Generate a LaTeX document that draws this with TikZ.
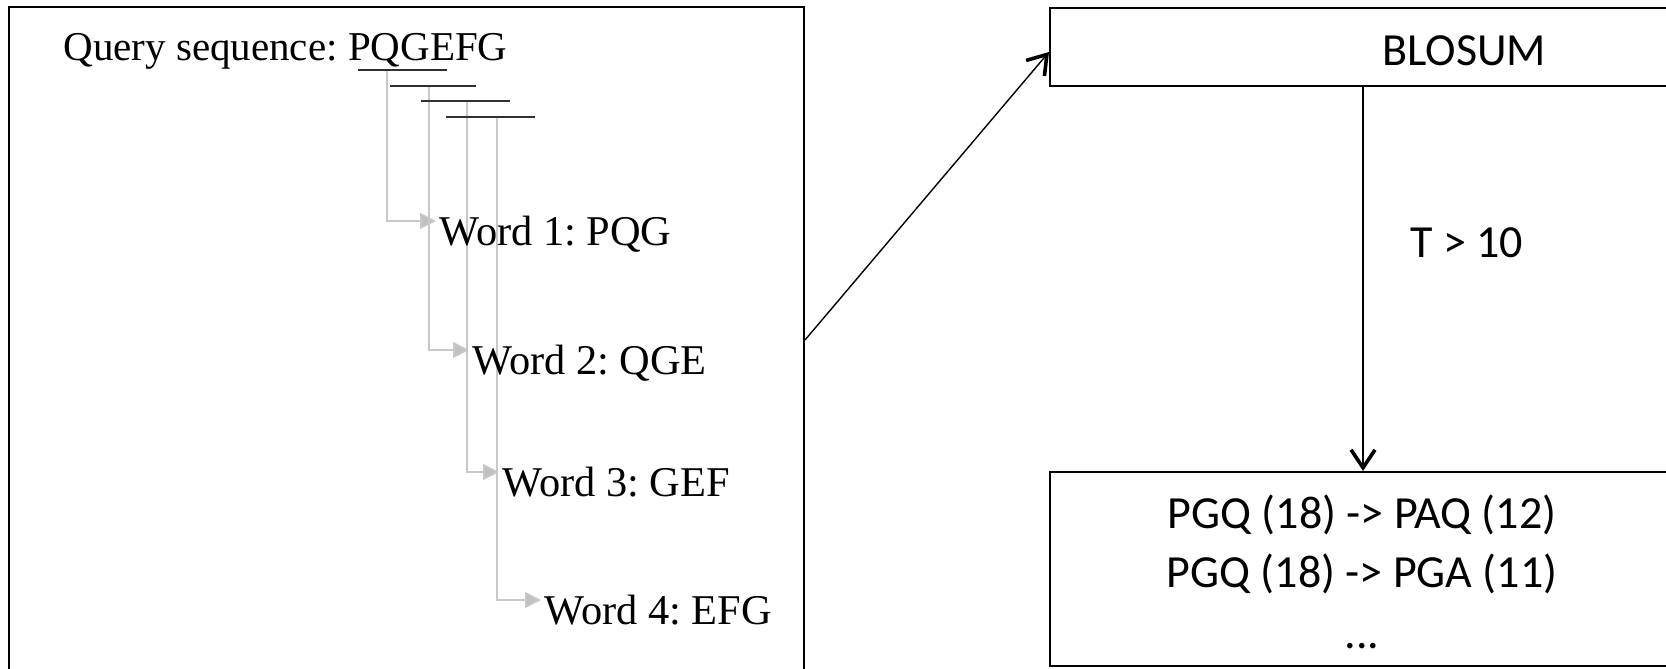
\documentclass[tikz,border=0pt]{standalone}
\usepackage{fontspec}
\setmainfont{Liberation Serif}
\newfontfamily\calib{Carlito}
\usetikzlibrary{arrows.meta,backgrounds}
\definecolor{wordgray}{HTML}{C8C8C8}
\definecolor{tipgray}{HTML}{C0C0C0}
\definecolor{ulgray}{HTML}{303030}
\frenchspacing

\begin{document}
\begin{tikzpicture}[x=0.5pt,y=-0.5pt,
  frame/.style={draw=black, line width=1pt, inner sep=0pt, anchor=north west},
  serif/.style={font=\fontsize{20.5}{24}\selectfont, inner sep=1.5pt, anchor=base west},
  wordtxt/.style={serif, font=\fontsize{21.2}{25}\selectfont},
  calibri/.style={font=\calib\fontsize{23}{28}\selectfont, inner sep=0pt},
  underl/.style={draw=ulgray, line width=1.1pt},
  feed/.style={draw=wordgray, line width=0.9pt, -{Triangle[length=8pt,width=8pt,fill=tipgray]}},
  flow/.style={draw=black, line width=0.7pt, -{Straight Barb[length=9pt,width=12pt,line width=1.8pt]}}
]
\clip (0,0) rectangle (1666,669);

% boxes
\node[frame, minimum width=397.5pt, minimum height=333pt] (qbox) at (8,6) {};
\node[frame, minimum width=313pt, minimum height=39pt] (blosum) at (1049,7) {};
\node[frame, minimum width=313pt, minimum height=97pt] (res) at (1049,471) {};

% query and the four words cut from it
\node[serif] (query) at (60,61) {Query sequence: PQGEFG};
\node[wordtxt] (w1) at (436,245) {Word 1: PQG};
\node[wordtxt] (w2) at (469,374) {Word 2: QGE};
\node[wordtxt] (w3) at (499,496) {Word 3: GEF};
\node[wordtxt] (w4) at (541,624) {Word 4: EFG};

% sliding-window underlines
\coordinate (u1a) at (358,70);  \coordinate (u1b) at (447,70);
\coordinate (u2a) at (390,86);  \coordinate (u2b) at (476,86);
\coordinate (u3a) at (421,101); \coordinate (u3b) at (510,101);
\coordinate (u4a) at (446,117); \coordinate (u4b) at (535,117);
\draw[underl] (u1a) -- (u1b);
\draw[underl] (u2a) -- (u2b);
\draw[underl] (u3a) -- (u3b);
\draw[underl] (u4a) -- (u4b);

\coordinate (v1) at (387,70);
\coordinate (v2) at (429,86);
\coordinate (v3) at (467,101);
\coordinate (v4) at (497,117);

\begin{pgfonlayer}{background}
\draw[feed] (v1) |- ([yshift=12pt]w1.base west);
\draw[feed] (v2) |- ([yshift=12pt]w2.base west);
\draw[feed] (v3) |- ([yshift=12pt]w3.base west);
\draw[feed] (v4) |- ([yshift=12pt]w4.base west);
\end{pgfonlayer}

% right-hand side
\node[calibri, anchor=base west] (blosumtxt) at (1382,65) {BLOSUM};
\node[calibri, anchor=base west] (thr) at (1410,257) {T > 10};
\node[calibri, anchor=base] (r1) at (1362,528) {PGQ (18) -> PAQ (12)};
\node[calibri, anchor=base] (r2) at (1362,587) {PGQ (18) -> PGA (11)};
\node[calibri, anchor=base] (r3) at (1362,648) {...};

\draw[flow] (qbox.east) -- ([yshift=-2.5pt]blosum.west);
\draw[flow] (blosum.south) -- (res.north);
\end{tikzpicture}
\end{document}
